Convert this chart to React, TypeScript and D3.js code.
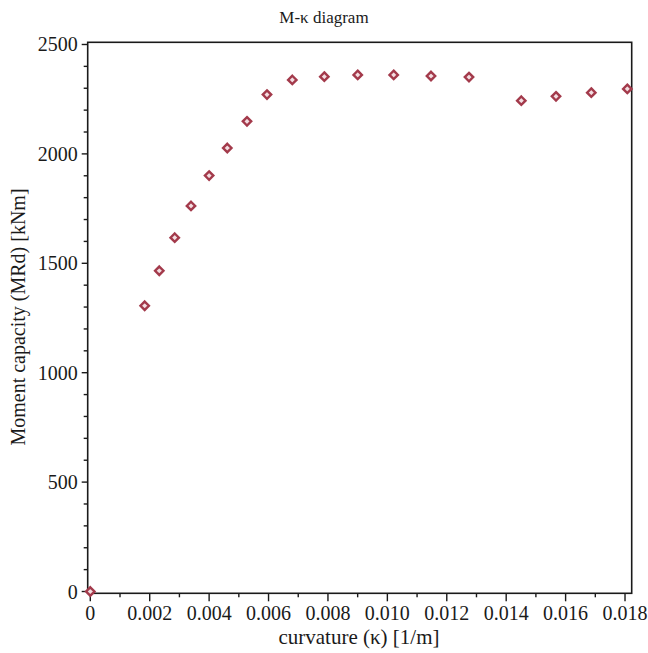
import React from "react";
import * as d3 from "d3";

const curvature = [0, 0.001831, 0.002322, 0.002842, 0.00339, 0.004, 0.004611, 0.005275, 0.005948, 0.0068, 0.007878, 0.009002, 0.010213, 0.011469, 0.012748, 0.014509, 0.015677, 0.016865, 0.018077];
const moment = [0, 1306, 1466, 1617, 1762, 1901, 2027, 2149, 2271, 2338, 2353, 2361, 2361, 2356, 2351, 2243, 2263, 2280, 2297];
const xTicks = [0, 0.002, 0.004, 0.006, 0.008, 0.01, 0.012, 0.014, 0.016, 0.018];
const xTickLabels = ["0", "0.002", "0.004", "0.006", "0.008", "0.010", "0.012", "0.014", "0.016", "0.018"];
const yTicks = [0, 500, 1000, 1500, 2000, 2500];
const yTickLabels = ["0", "500", "1000", "1500", "2000", "2500"];
const title = "M-κ diagram";
const xLabel = "curvature (κ) [1/m]";
const yLabel = "Moment capacity (MRd) [kNm]";

export default function App() {
  const W = 648, H = 653;
  const left = 87.7, right = 631.7, top = 42.3, bottom = 593.3;
  const x = d3.scaleLinear().domain([-0.0000875, 0.018225]).range([left, right]);
  const y = d3.scaleLinear().domain([-8.2, 2510]).range([bottom, top]);
  const xMinor = d3.range(0.001, 0.0185, 0.002);
  const yMinor = d3.range(0, 2501, 100).filter((v) => v % 500 !== 0);
  const font = "'Liberation Serif', 'Times New Roman', serif";
  const ink = "#1a1a1a";
  const mColor = "#a33a4b";
  const diamond = (cx: number, cy: number, r: number) =>
    `M${cx},${cy - r}L${cx + r},${cy}L${cx},${cy + r}L${cx - r},${cy}Z`;
  return (
    <div style={{ position: "absolute", left: 0, top: 0 }}>
      <svg width={W} height={H} style={{ display: "block", background: "#fff" }}>
        <text x={324} y={23} textAnchor="middle" fontFamily={font} fontSize={17} fill={ink}>
          {title}
        </text>
        <rect x={left} y={top} width={right - left} height={bottom - top} fill="none" stroke={ink} strokeWidth={1.6} />
        {xTicks.map((t, i) => (
          <g key={"xt" + i}>
            <line x1={x(t)} x2={x(t)} y1={bottom} y2={bottom + 8} stroke={ink} strokeWidth={1.4} />
            <text x={x(t)} y={620} textAnchor="middle" fontFamily={font} fontSize={20} fill={ink}>
              {xTickLabels[i]}
            </text>
          </g>
        ))}
        {xMinor.map((t, i) => (
          <line key={"xm" + i} x1={x(t)} x2={x(t)} y1={bottom} y2={bottom + 4} stroke={ink} strokeWidth={1.4} />
        ))}
        {yTicks.map((t, i) => (
          <g key={"yt" + i}>
            <line x1={left - 6} x2={left} y1={y(t)} y2={y(t)} stroke={ink} strokeWidth={1.4} />
            <text x={left - 10} y={y(t) + 7} textAnchor="end" fontFamily={font} fontSize={20} fill={ink}>
              {yTickLabels[i]}
            </text>
          </g>
        ))}
        {yMinor.map((t, i) => (
          <line key={"ym" + i} x1={left - 4} x2={left} y1={y(t)} y2={y(t)} stroke={ink} strokeWidth={1.4} />
        ))}
        <text x={359} y={644} textAnchor="middle" fontFamily={font} fontSize={21} fill={ink}>
          {xLabel}
        </text>
        <text
          transform={`translate(25,317) rotate(-90)`}
          textAnchor="middle"
          fontFamily={font}
          fontSize={20}
          fill={ink}
        >
          {yLabel}
        </text>
        {curvature.map((c, i) => (
          <path key={"p" + i} d={diamond(x(c), y(moment[i]), 4.2)} fill="#f3dde1" stroke={mColor} strokeWidth={2.4} />
        ))}
      </svg>
    </div>
  );
}
